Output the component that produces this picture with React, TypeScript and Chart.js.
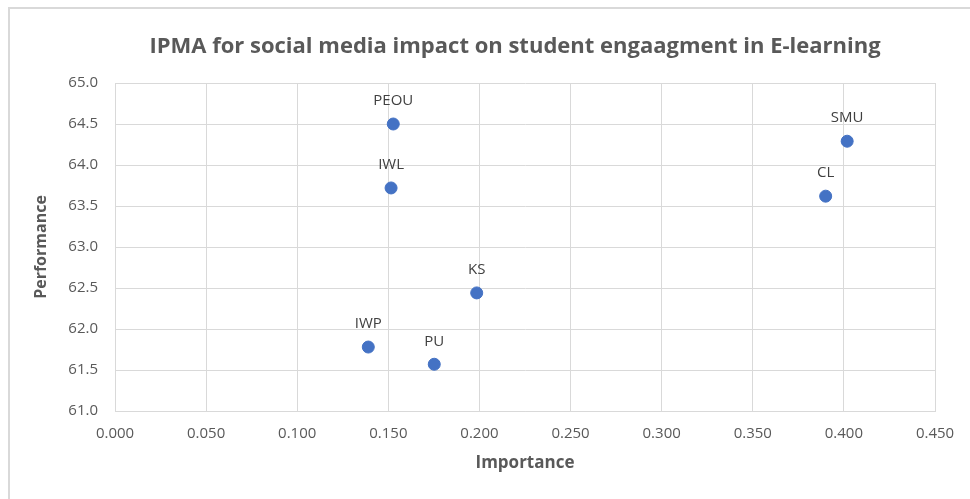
import React, { useEffect, useRef } from "react";
import { Chart, registerables } from "chart.js";

Chart.register(...registerables);

const labels = ["PEOU", "IWL", "SMU", "CL", "KS", "IWP", "PU"];
const importance = [0.1527, 0.1515, 0.4018, 0.39, 0.1985, 0.139, 0.1752];
const performance = [64.5, 63.72, 64.29, 63.62, 62.44, 61.78, 61.57];

const chartTitle = "IPMA for social media impact on student engaagment in E-learning";
const xTitle = "Importance";
const yTitle = "Performance";

const FONT = "'Open Sans', 'Liberation Sans', sans-serif";

const framePlugin = {
  id: "frame",
  beforeDraw(chart: any) {
    const ctx = chart.ctx;
    ctx.save();
    ctx.fillStyle = "#ffffff";
    ctx.fillRect(0, 0, chart.width, chart.height);
    ctx.strokeStyle = "#d9d9d9";
    ctx.lineWidth = 2;
    ctx.beginPath();
    ctx.moveTo(9, chart.height);
    ctx.lineTo(9, 8);
    ctx.lineTo(chart.width, 8);
    ctx.stroke();
    ctx.fillStyle = "#595959";
    ctx.font = `bold 22px ${FONT}`;
    ctx.textAlign = "center";
    ctx.textBaseline = "middle";
    ctx.fillText(chartTitle, 515, 47);
    ctx.restore();
  },
};

const labelPlugin = {
  id: "pointLabels",
  afterDatasetsDraw(chart: any) {
    const ctx = chart.ctx;
    const meta = chart.getDatasetMeta(0);
    ctx.save();
    ctx.fillStyle = "#404040";
    ctx.font = `15px ${FONT}`;
    ctx.textAlign = "center";
    ctx.textBaseline = "middle";
    meta.data.forEach((el: any, i: number) => {
      ctx.fillText(labels[i], el.x, el.y - 23);
    });
    ctx.restore();
  },
};

export default function App() {
  const ref = useRef<HTMLCanvasElement>(null);
  useEffect(() => {
    document.body.style.margin = "0";
    const chart = new Chart(ref.current!, {
      type: "scatter",
      data: {
        datasets: [
          {
            label: "IPMA",
            data: importance.map((x, i) => ({ x, y: performance[i] })),
            backgroundColor: "#4472C4",
            borderColor: "#4472C4",
            pointRadius: 6,
            pointHoverRadius: 6,
          },
        ],
      },
      options: {
        animation: false,
        responsive: false,
        layout: { padding: { left: 30, right: 35, top: 83, bottom: 0 } },
        plugins: {
          legend: { display: false },
          tooltip: { enabled: false },
          title: { display: false },
        },
        scales: {
          x: {
            type: "linear",
            min: 0,
            max: 0.45,
            afterFit: (s: any) => {
              s.height = 88;
            },
            ticks: {
              stepSize: 0.05,
              color: "#595959",
              font: { family: FONT, size: 15 },
              padding: 14,
              callback: (v: any) => Number(v).toFixed(3),
            },
            grid: { color: "#d9d9d9", lineWidth: 1, drawTicks: false },
            border: { color: "#d9d9d9" },
            title: {
              display: true,
              text: xTitle,
              color: "#595959",
              font: { family: FONT, size: 17, weight: "bold" },
              padding: { top: 0, bottom: 26 },
            },
          },
          y: {
            type: "linear",
            min: 61,
            max: 65,
            afterFit: (s: any) => {
              s.width = 85;
            },
            ticks: {
              stepSize: 0.5,
              color: "#595959",
              font: { family: FONT, size: 15 },
              padding: 17,
              callback: (v: any) => Number(v).toFixed(1),
            },
            grid: { color: "#d9d9d9", lineWidth: 1, drawTicks: false },
            border: { color: "#d9d9d9" },
            title: {
              display: true,
              text: yTitle,
              color: "#595959",
              font: { family: FONT, size: 16, weight: "bold" },
              padding: { top: 2, bottom: 0 },
            },
          },
        },
      },
      plugins: [framePlugin, labelPlugin],
    });
    return () => chart.destroy();
  }, []);
  return (
    <div style={{ position: "absolute", left: 0, top: 0, width: 970, height: 499 }}>
      <canvas ref={ref} width={970} height={499} style={{ width: 970, height: 499, display: "block" }} />
    </div>
  );
}
